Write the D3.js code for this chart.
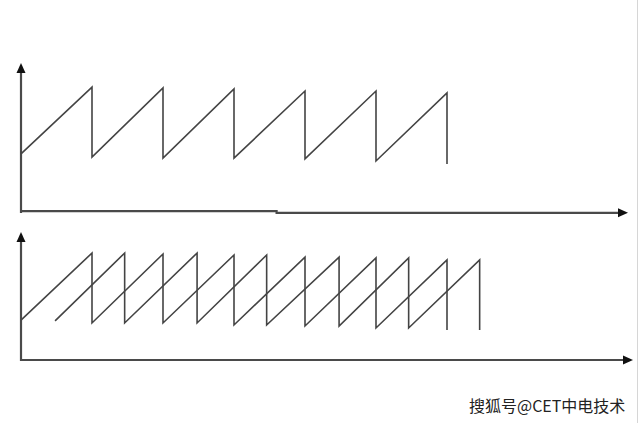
<!DOCTYPE html>
<html>
<head>
<meta charset="utf-8">
<script src="https://cdn.jsdelivr.net/npm/d3@7/dist/d3.min.js"></script>
<style>
  html, body { margin: 0; padding: 0; background: #fff; }
  svg { display: block; }
</style>
</head>
<body>
<script>
// ---- Data (time in periods, value as fraction of axis height) ----
const topT  = [0, 1, 1, 2, 2, 3, 3, 4, 4, 5, 5, 6, 6];
const topV  = [0.395, 0.850, 0.374, 0.844, 0.367, 0.837, 0.367, 0.823, 0.361, 0.823, 0.347, 0.810, 0.327];

const botAT = [0, 1, 1, 2, 2, 3, 3, 4, 4, 5, 5, 6, 6];
const botAV = [0.317, 0.849, 0.294, 0.841, 0.294, 0.833, 0.278, 0.817, 0.270, 0.810, 0.254, 0.794, 0.238];

const botBT = [0.48, 1.46, 1.46, 2.48, 2.48, 3.46, 3.46, 4.48, 4.48, 5.46, 5.46, 6.46, 6.46];
const botBV = [0.310, 0.849, 0.294, 0.849, 0.294, 0.833, 0.278, 0.817, 0.270, 0.810, 0.254, 0.794, 0.238];

const watermark = "搜狐号@CET中电技术";

// ---- Layout ----
const W = 639, H = 423;
const svg = d3.select("body").append("svg").attr("width", W).attr("height", H);

const panels = [
  { x0: 21, xEnd: 628, y0: 212, yTop: 63, tMax: (628 - 21) / 71,
    series: [[topT, topV]], yRangeTop: 65, step: 3.6 },
  { x0: 21, xEnd: 633, y0: 360, yTop: 232, tMax: (633 - 21) / 71,
    series: [[botAT, botAV], [botBT, botBV]], yRangeTop: 234, step: null }
];

const axisColor = "#4a4a4a";
const lineColor = "#444";

panels.forEach(p => {
  const x = d3.scaleLinear().domain([0, p.tMax]).range([p.x0, p.xEnd]);
  const y = d3.scaleLinear().domain([0, 1]).range([p.y0, p.yRangeTop]);
  const g = svg.append("g");

  // y axis line
  g.append("line")
    .attr("x1", p.x0).attr("x2", p.x0)
    .attr("y1", p.y0 + 1).attr("y2", p.yTop + 8)
    .attr("stroke", axisColor).attr("stroke-width", 2.2);
  // y arrow
  g.append("path")
    .attr("d", `M${p.x0},${p.yTop} L${p.x0 - 4.5},${p.yTop + 10} L${p.x0 + 4.5},${p.yTop + 10} Z`)
    .attr("fill", "#111");

  // x axis line (top panel has a tiny step)
  if (p.step !== null) {
    const xs = x(p.step);
    g.append("path")
      .attr("d", `M${p.x0},${p.y0 - 0.8} L${xs},${p.y0 - 0.8} L${xs},${p.y0 + 0.8} L${p.xEnd - 8},${p.y0 + 0.8}`)
      .attr("fill", "none").attr("stroke", axisColor).attr("stroke-width", 2.2);
    g.append("path")
      .attr("d", `M${p.xEnd},${p.y0 + 0.8} L${p.xEnd - 10},${p.y0 - 3.7} L${p.xEnd - 10},${p.y0 + 5.3} Z`)
      .attr("fill", "#111");
  } else {
    g.append("line")
      .attr("x1", p.x0).attr("x2", p.xEnd - 8)
      .attr("y1", p.y0).attr("y2", p.y0)
      .attr("stroke", axisColor).attr("stroke-width", 2.2);
    g.append("path")
      .attr("d", `M${p.xEnd},${p.y0} L${p.xEnd - 10},${p.y0 - 4.5} L${p.xEnd - 10},${p.y0 + 4.5} Z`)
      .attr("fill", "#111");
  }

  const line = d3.line().x(d => x(d[0])).y(d => y(d[1]));
  p.series.forEach(([ts, vs]) => {
    g.append("path")
      .datum(ts.map((t, i) => [t, vs[i]]))
      .attr("d", line)
      .attr("fill", "none")
      .attr("stroke", lineColor)
      .attr("stroke-width", 1.6)
      .attr("stroke-linejoin", "miter");
  });
});

// right border line
svg.append("line")
  .attr("x1", 637.5).attr("x2", 637.5).attr("y1", 0).attr("y2", H)
  .attr("stroke", "#d6d6d6").attr("stroke-width", 1);

// watermark
svg.append("text")
  .attr("x", 469).attr("y", 412)
  .attr("font-family", "'Noto Sans CJK SC', sans-serif")
  .attr("font-size", 16)
  .attr("fill", "#222")
  .text(watermark);
</script>
</body>
</html>
